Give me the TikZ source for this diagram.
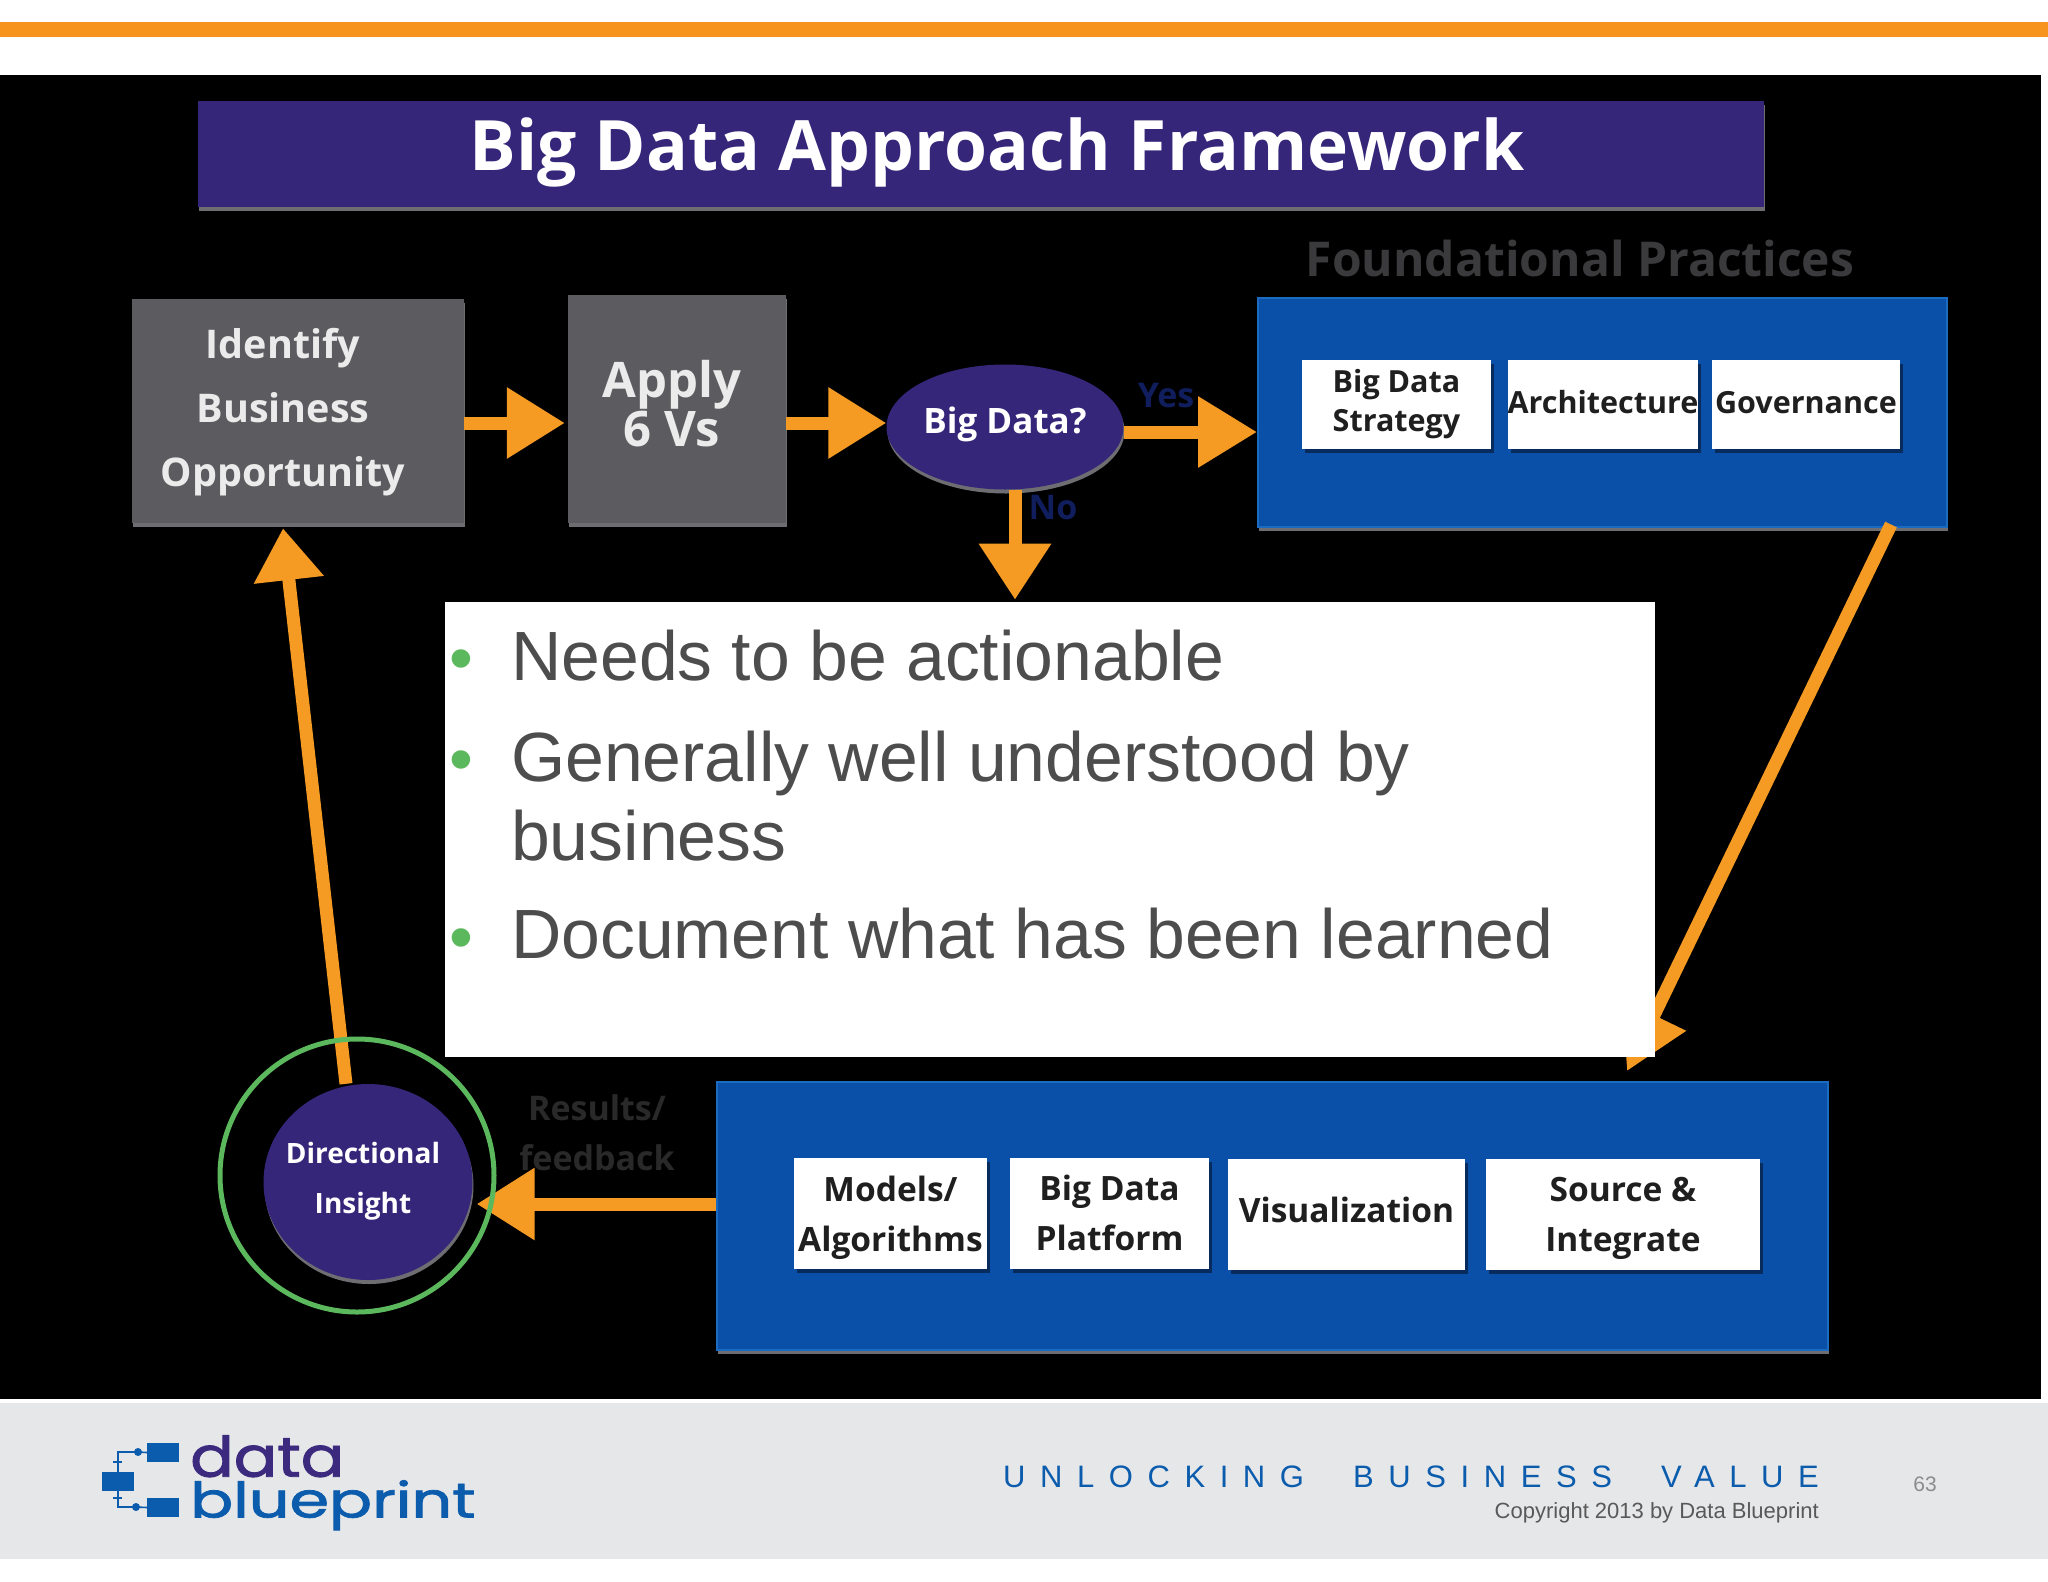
\documentclass[tikz,border=0pt]{standalone}
\usepackage{graphicx}
\usepackage{fontspec}
\setmainfont{Open Sans}
\newfontfamily\bodyfont{Liberation Sans}
\newfontfamily\spacedfont[LetterSpace=47]{Liberation Sans}
\newfontfamily\logofont[FakeBold=1.5]{Poppins}
\usetikzlibrary{arrows.meta,shadows,shapes.geometric}
\definecolor{orangeA}{HTML}{F7941E}
\definecolor{arrowO}{HTML}{F59A23}
\definecolor{navy}{HTML}{35267A}
\definecolor{boxgrey}{HTML}{5C5C60}
\definecolor{blueA}{HTML}{0A4FA8}
\definecolor{blueB}{HTML}{1B6BC0}
\definecolor{edgegrey}{HTML}{6E6E72}
\definecolor{footg}{HTML}{E6E7E8}
\definecolor{greenA}{HTML}{5CB85C}
\definecolor{bodytx}{HTML}{4D4D4D}
\definecolor{logoblue}{HTML}{0B5CAD}
\definecolor{logopurple}{HTML}{3B2A7E}
\definecolor{deadtx}{HTML}{3A3A3C}
\definecolor{darknavy}{HTML}{101E5E}
\tikzset{
  bevel/.style={general shadow={shadow xshift=1pt,shadow yshift=-4pt,fill=edgegrey}},
  titlebar/.style={rectangle,bevel,fill=navy,inner sep=0pt},
  greybox/.style={rectangle,bevel,fill=boxgrey,inner sep=0pt},
  bluebox/.style={rectangle,bevel,fill=blueA,draw=blueB,line width=2pt,inner sep=0pt},
  whitebox/.style={rectangle,fill=white,inner sep=0pt,text=black!88,align=center,font=\bfseries\fontsize{30.5}{39}\selectfont,general shadow={shadow xshift=3pt,shadow yshift=-4pt,fill=black!45!blueA}},
  wideline/.style={font=\bfseries\fontsize{33.5}{50}\selectfont},
  oval/.style={ellipse,bevel,fill=navy,inner sep=0pt},
  ovaltx/.style={inner sep=0pt,text=white,align=center},
  boxtx/.style={text=white!92!black,inner sep=0pt,align=center},
  ghost/.style={inner sep=0pt,font=\bfseries\fontsize{34}{50}\selectfont,align=center},
  flow/.style={draw=arrowO,line width=13pt},
  bullettx/.style={inner sep=0pt,anchor=base west,text=bodytx,font=\bodyfont\fontsize{69.7}{80}\selectfont,align=left},
  dotmark/.style={inner sep=0pt,anchor=base,text=greenA,font=\bodyfont\fontsize{68}{68}\selectfont},
  logotx/.style={inner sep=0pt,anchor=north west},
  logobox/.style={rectangle,fill=logoblue,inner sep=0pt},
  logoline/.style={draw=logoblue,line width=1.6pt},
}
\begin{document}
\begin{tikzpicture}[x=1pt,y=-1pt]
\useasboundingbox (0,0) rectangle (2048,1582);
\fill[white] (0,0) rectangle (2048,1582);
\fill[orangeA] (0,22) rectangle (2048,37);
\fill[black] (0,75) rectangle (2041,1399);
\fill[footg] (0,1403) rectangle (2048,1559);

\node[titlebar,minimum width=1566,minimum height=106] (title) at (981,154) {};
\node[text=white,inner sep=0pt,font=\bfseries\fontsize{69.5}{70}\selectfont] (titletx) at (997,152) {Big Data Approach Framework};

\node[greybox,minimum width=332,minimum height=224] (b1) at (298,411) {};
\node[boxtx,font=\bfseries\fontsize{39.5}{64}\selectfont] (b1tx) at (283,412) {Identify\\Business\\Opportunity};
\node[greybox,minimum width=218,minimum height=228] (b2) at (677,409) {};
\node[boxtx,font=\bfseries\fontsize{49}{49}\selectfont] (b2tx) at (672,404) {Apply\\6 Vs};
\node[oval,minimum width=237,minimum height=125] (bd) at (1005,427) {};
\node[ovaltx,font=\bfseries\fontsize{35}{44}\selectfont] (bdtx) at (1005,424) {Big Data?};
\node[ghost,text=deadtx,font=\bfseries\fontsize{48}{48}\selectfont] (fp) at (1580,258) {Foundational Practices};
\node[bluebox,minimum width=689,minimum height=229] (tb) at (1602.5,412) {};
\node[whitebox,minimum width=189,minimum height=89] (s1) at (1396.5,404) {Big Data\\Strategy};
\node[whitebox,minimum width=190,minimum height=89] (s2) at (1603,404) {\raisebox{4pt}{Architecture}};
\node[whitebox,minimum width=188,minimum height=89] (s3) at (1806,404) {\raisebox{4pt}{Governance}};
\node[ghost,text=darknavy] (yes) at (1166,396) {Yes};
\node[ghost,text=darknavy] (no) at (1053,508) {No};

\node[bluebox,minimum width=1111,minimum height=268] (bb) at (1272.5,1216) {};
\node[whitebox,wideline,minimum width=193,minimum height=111] (m1) at (890.5,1213) {\rule{0pt}{36pt}Models/\\Algorithms};
\node[whitebox,wideline,minimum width=199,minimum height=111] (m2) at (1109.5,1213) {Big Data\\Platform};
\node[whitebox,wideline,minimum width=237,minimum height=111] (m3) at (1346.5,1214) {\raisebox{9pt}{Visualization}};
\node[whitebox,wideline,minimum width=274,minimum height=111] (m4) at (1623,1214) {\rule{0pt}{33pt}Source \&\\Integrate};

\node[oval,minimum width=209,minimum height=196] (dir) at (368,1182) {};
\node[ovaltx,font=\bfseries\fontsize{28}{50}\selectfont] (dirtx) at (363,1181) {Directional\\Insight};
\node[ghost,text=deadtx!70!black] (res) at (597,1133) {Results/\\feedback};

\draw[flow,-{Triangle[length=58pt,width=68pt,fill=arrowO]}] ([yshift=-12pt]b1.east) -- ([xshift=-3pt,yshift=-14pt]b2.west);
\draw[flow,-{Triangle[length=58pt,width=68pt,fill=arrowO]}] ([yshift=-14pt]b2.east) -- ([yshift=4pt]bd.west);
\draw[flow,-{Triangle[length=59pt,width=68pt,fill=arrowO]}] ([yshift=-5pt]bd.east) -- ([yshift=-20pt]tb.west);
\draw[flow,-{Triangle[length=56pt,width=69pt,fill=arrowO]}] ([xshift=10pt]bd.south) -- ([xshift=10pt,yshift=-110pt]bd.south);
\draw[flow,-{Triangle[length=62pt,width=68pt,fill=arrowO]}] ([xshift=-57pt,yshift=3pt]tb.south east) -- ([xshift=-202pt,yshift=10pt]bb.north east);
\draw[flow,-{Triangle[length=52pt,width=67pt,fill=arrowO]}] ([xshift=-22pt]dir.north) -- ([xshift=-15pt,yshift=-5pt]b1.south);
\draw[flow,-{Triangle[length=58pt,width=69pt,fill=arrowO]}] ([yshift=12pt]bb.west) -- ([xshift=4pt,yshift=-22pt]dir.east);

\node[draw=greenA,line width=5pt,ellipse,minimum width=274,minimum height=273,inner sep=0pt] (ring) at (357,1175.5) {};

\node[rectangle,fill=white,minimum width=1210,minimum height=455,inner sep=0pt] (panel) at (1050,829.5) {};
\node[dotmark] (d1) at (461,681) {•};
\node[dotmark] (d2) at (461,782) {•};
\node[dotmark] (d3) at (461,960) {•};
\node[bullettx] (t1) at (511,680) {Needs to be actionable};
\node[bullettx] (t2) at (511,781) {Generally well understood by};
\node[bullettx] (t2b) at (511,860) {business};
\node[bullettx] (t3) at (511,958) {Document what has been learned};

% logo
\node[logobox,minimum width=32,minimum height=19] (la) at (163,1452.5) {};
\node[logobox,minimum width=32,minimum height=19] (lb) at (118,1481.5) {};
\node[logobox,minimum width=32,minimum height=19] (lc) at (163,1507.5) {};
\node[circle,fill=logoblue,minimum size=8pt,inner sep=0pt] (ca) at (138,1452) {};
\node[circle,fill=logoblue,minimum size=8pt,inner sep=0pt] (cc) at (136,1507) {};
\draw[logoline] (lb.north) |- (ca.center) -- (la.west);
\draw[logoline] (lb.south) |- (cc.center) -- (lc.west);
\draw[logoline] ([xshift=-5pt,yshift=10pt]lb.north) -- ([xshift=4pt,yshift=10pt]lb.north);
\draw[logoline] ([xshift=-5pt,yshift=-7pt]lb.south) -- ([xshift=4pt,yshift=-7pt]lb.south);
\node[logotx,text=logopurple] (ld) at (190,1435) {\resizebox*{154pt}{42pt}{\logofont data}};
\node[logotx,text=logoblue] (lp) at (190,1480) {\resizebox*{285pt}{50pt}{\logofont blueprint}};

\node[inner sep=0pt,anchor=base east,text=logoblue,font=\spacedfont\fontsize{31}{31}\selectfont] (unlock) at (1819,1487) {UNLOCKING\hspace{26pt} BUSINESS\hspace{26pt} VALUE};
\node[inner sep=0pt,anchor=base east,text=black!65,font=\bodyfont\fontsize{22}{22}\selectfont] (copy) at (1819,1518) {Copyright 2013 by Data Blueprint};
\node[inner sep=0pt,text=black!45,font=\bodyfont\fontsize{21}{21}\selectfont] (pg) at (1925,1484) {63};
\end{tikzpicture}
\end{document}
